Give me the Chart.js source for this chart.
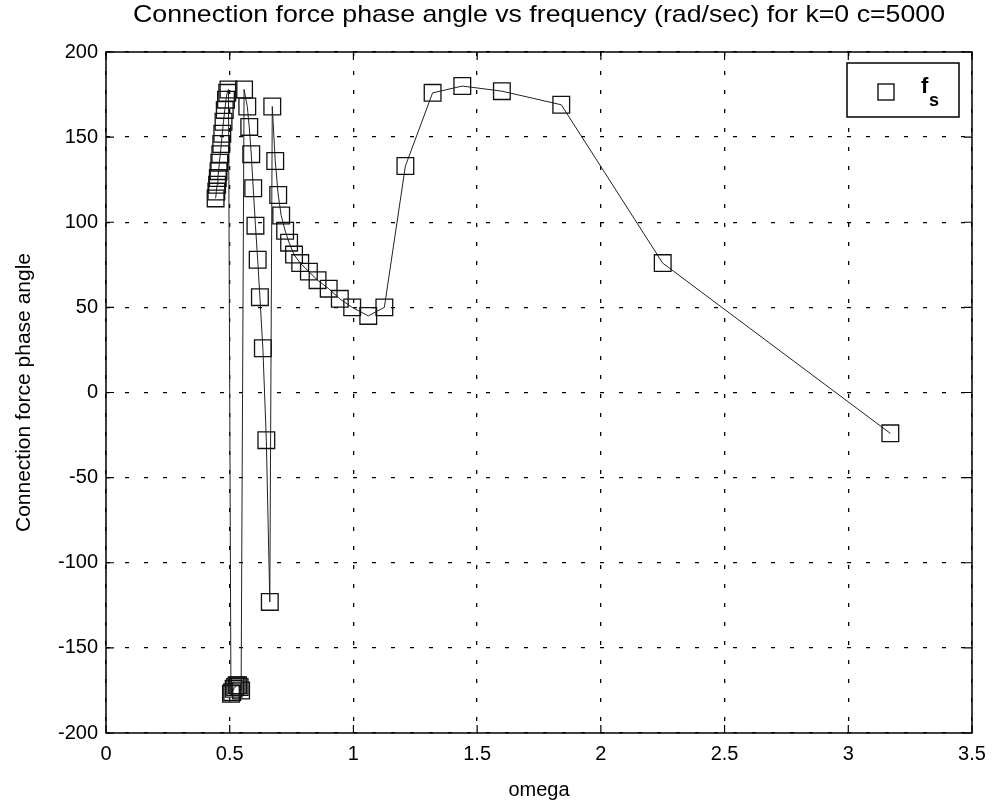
<!DOCTYPE html>
<html>
<head>
<meta charset="utf-8">
<script src="https://cdn.jsdelivr.net/npm/chart.js@4.4.1/dist/chart.umd.min.js"></script>
<style>
  html, body { margin: 0; padding: 0; background: #fff; }
  #wrap { width: 998px; height: 805px; position: relative; }
</style>
</head>
<body>
<div id="wrap"><canvas id="grafico" width="998" height="805"></canvas></div>
<script>
// ---- dados

const tituloGrafico = 'Connection force phase angle vs frequency (rad/sec) for k=0 c=5000';
const tituloX = 'omega';
const tituloY = 'Connection force phase angle';
const nomeSerie = 'f';
const subSerie = 's';

// frequência (rad/sec)
const omega = [
    0.443, 0.446, 0.449, 0.452, 0.455, 0.458, 0.462, 0.466, 0.470, 0.475, 0.480, 0.485, 0.490, 0.495,
    0.505, 0.510, 0.516, 0.522, 0.528, 0.534, 0.540, 0.546,
    0.558,
    0.571, 0.579, 0.587, 0.595, 0.604, 0.613, 0.622, 0.634, 0.648, 0.662,
    0.672, 0.684, 0.696, 0.708, 0.724, 0.740, 0.760, 0.785, 0.820, 0.855, 0.900, 0.945, 0.995,
    1.06, 1.125, 1.21, 1.32, 1.44, 1.60, 1.84, 2.25, 3.17
];

// ângulo de fase da força de conexão
const fase = [
    114, 118, 122, 126, 130, 135, 140, 146, 152, 159, 166, 172, 176, 178,
    -177, -176, -174, -173, -172, -172, -173, -175,
    178,
    168, 156, 140, 120, 98, 78, 56, 26, -28, -123,
    168, 136, 116, 104, 95, 88, 81, 76, 71, 66, 61, 55, 50,
    45, 50, 133, 176, 180, 177, 169, 76, -24
];

const ticksX = [0, 0.5, 1, 1.5, 2, 2.5, 3, 3.5];
const ticksY = [-200, -150, -100, -50, 0, 50, 100, 150, 200];

const pontos = omega.map((w, i) => ({ x: w, y: fase[i] }));

const fonte = '"Liberation Sans", Arial, Helvetica, sans-serif';

// escreve texto esticado na horizontal até a largura desejada
function textoEsticado(ctx, texto, x, y, largura) {
    const w = ctx.measureText(texto).width;
    ctx.save();
    ctx.translate(x, y);
    ctx.scale(largura / w, 1);
    ctx.fillText(texto, 0, 0);
    ctx.restore();
}

// ---- plugin: caixa dos eixos, marcas internas, títulos e legenda (estilo matlab)
const estiloMatlab = {
    id: 'estiloMatlab',
    afterDraw(chart) {
        const ctx = chart.ctx;
        const a = chart.chartArea;
        const sx = chart.scales.x;
        const sy = chart.scales.y;
        ctx.save();

        // caixa
        ctx.strokeStyle = '#000';
        ctx.lineWidth = 1.5;
        ctx.setLineDash([]);
        ctx.strokeRect(a.left, a.top, a.right - a.left, a.bottom - a.top);

        // marcas internas
        const tam = 8;
        ctx.lineWidth = 1.2;
        ctx.beginPath();
        ticksX.forEach(v => {
            const px = sx.getPixelForValue(v);
            ctx.moveTo(px, a.bottom); ctx.lineTo(px, a.bottom - tam);
            ctx.moveTo(px, a.top); ctx.lineTo(px, a.top + tam);
        });
        ticksY.forEach(v => {
            const py = sy.getPixelForValue(v);
            ctx.moveTo(a.left, py); ctx.lineTo(a.left + tam, py);
            ctx.moveTo(a.right, py); ctx.lineTo(a.right - tam, py);
        });
        ctx.stroke();

        // títulos
        ctx.fillStyle = '#000';
        ctx.textAlign = 'center';
        ctx.textBaseline = 'middle';
        ctx.font = '24px ' + fonte;
        textoEsticado(ctx, tituloGrafico, (a.left + a.right) / 2, 15, 812);
        ctx.font = '20px ' + fonte;
        ctx.fillText(tituloX, (a.left + a.right) / 2, 790);
        ctx.save();
        ctx.translate(24, (a.top + a.bottom) / 2);
        ctx.rotate(-Math.PI / 2);
        ctx.font = '21px ' + fonte;
        ctx.fillText(tituloY, 0, 0);
        ctx.restore();

        // legenda
        const lx = 847, ly = 63, lw = 112, lh = 54;
        ctx.fillStyle = '#fff';
        ctx.fillRect(lx, ly, lw, lh);
        ctx.strokeStyle = '#000';
        ctx.lineWidth = 1.5;
        ctx.strokeRect(lx, ly, lw, lh);
        ctx.lineWidth = 1.3;
        ctx.strokeRect(878, 84, 16, 16);
        ctx.fillStyle = '#000';
        ctx.textAlign = 'left';
        ctx.textBaseline = 'alphabetic';
        ctx.font = 'bold 22px ' + fonte;
        ctx.fillText(nomeSerie, 921, 93);
        ctx.font = 'bold 18px ' + fonte;
        ctx.fillText(subSerie, 929, 106);

        ctx.restore();
    }
};

const ctx = document.getElementById('grafico').getContext('2d');
let grafico = new Chart(ctx, {
    type: 'scatter',
    data: {
        datasets: [{
            label: 'fs',
            data: pontos,
            showLine: true,
            borderColor: '#222',
            borderWidth: 1,
            pointStyle: 'rect',
            pointRadius: 11.8,
            pointBorderWidth: 1.3,
            pointBorderColor: '#111',
            pointBackgroundColor: 'rgba(0,0,0,0)',
            tension: 0
        }]
    },
    options: {
        responsive: false,
        animation: false,
        layout: { padding: { top: 52, right: 26, left: 0, bottom: 0 } },
        plugins: {
            legend: { display: false },
            title: { display: false },
            tooltip: { enabled: false }
        },
        scales: {
            x: {
                type: 'linear',
                min: 0,
                max: 3.5,
                afterFit: s => { s.height = 72; },
                afterBuildTicks: s => { s.ticks = ticksX.map(v => ({ value: v })); },
                grid: {
                    color: '#000',
                    lineWidth: 1.3,
                    drawTicks: false
                },
                border: { display: false, dash: [4, 15] },
                ticks: {
                    padding: 9,
                    color: '#000',
                    font: { family: fonte, size: 20 },
                    maxRotation: 0,
                    callback: v => String(v)
                }
            },
            y: {
                type: 'linear',
                min: -200,
                max: 200,
                afterFit: s => { s.width = 106; },
                afterBuildTicks: s => { s.ticks = ticksY.map(v => ({ value: v })); },
                grid: {
                    color: '#000',
                    lineWidth: 1.3,
                    drawTicks: false
                },
                border: { display: false, dash: [4, 15] },
                ticks: {
                    padding: 8,
                    color: '#000',
                    font: { family: fonte, size: 20 },
                    callback: v => String(v)
                }
            }
        }
    },
    plugins: [estiloMatlab]
});
</script>
</body>
</html>
